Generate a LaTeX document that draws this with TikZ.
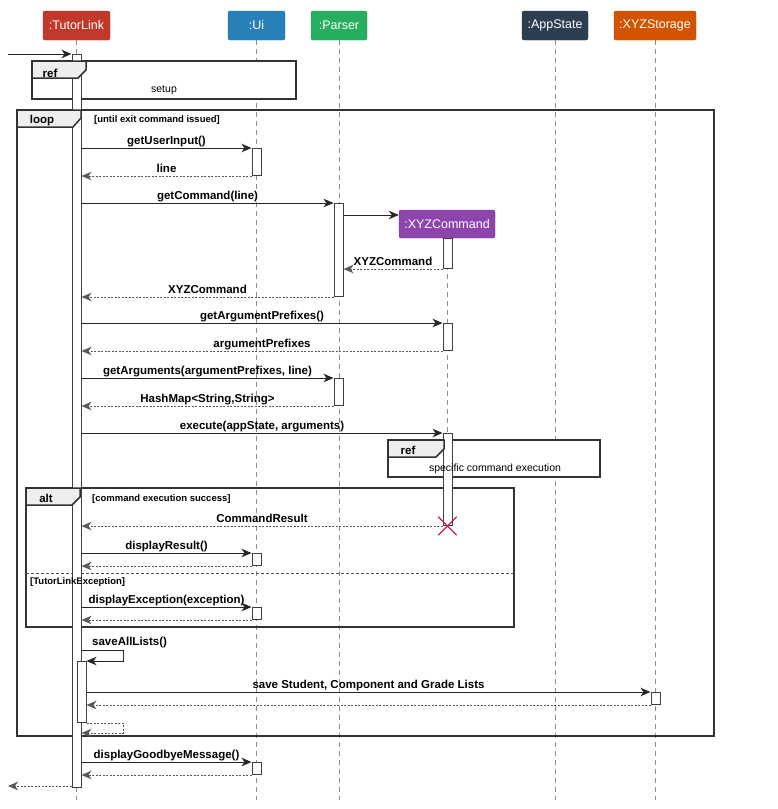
\documentclass[tikz,border=0pt]{standalone}
\usepackage{fontspec}
\setmainfont{Liberation Sans}
\usetikzlibrary{arrows.meta,shapes.misc}
\definecolor{tlred}{HTML}{C0392B}
\definecolor{uiblue}{HTML}{2980B9}
\definecolor{pgreen}{HTML}{27AE60}
\definecolor{asnavy}{HTML}{2C3E50}
\definecolor{storange}{HTML}{D35400}
\definecolor{cmdpurple}{HTML}{8E44AD}
\definecolor{xred}{HTML}{C81E4A}
\definecolor{framec}{HTML}{333333}
\definecolor{tabfill}{HTML}{EEEEEE}
\begin{document}
\begin{tikzpicture}[x=1pt,y=-1pt,
  hdr/.style={rectangle, rounded corners=2pt, text=white, inner sep=0pt,
    font=\fontsize{12.5}{14}\selectfont, draw=#1!85!black, fill=#1},
  life/.style={draw=black!45, dash pattern=on 5pt off 4pt, line width=0.8pt},
  act/.style={rectangle, draw=black!75, fill=white, line width=1pt,
    minimum width=9pt, inner sep=0pt, anchor=north},
  msg/.style={draw=black!85, line width=1pt, -{Stealth[length=10pt,width=8.5pt,inset=3pt]}},
  ret/.style={msg, draw=black!65, dash pattern=on 2pt off 1.5pt},
  lbl/.style={anchor=base, yshift=4pt, inner sep=0pt, font=\fontsize{11.5}{13}\selectfont\bfseries},
  frm/.style={draw=framec, line width=1.7pt},
  tabshape/.style={fill=tabfill, draw=framec, line width=1.5pt},
  tabtxt/.style={anchor=base, inner sep=0pt, font=\fontsize{11.5}{13}\selectfont\bfseries},
  guard/.style={anchor=base west, inner sep=0pt, font=\fontsize{9.5}{11}\selectfont\bfseries},
  reftxt/.style={anchor=base, inner sep=0pt, font=\fontsize{10.5}{12}\selectfont}
]
\useasboundingbox (0,0) rectangle (778,809);

% header boxes
\node[hdr=tlred, minimum width=67pt, minimum height=29pt] (tl) at (76.5,25.5) {:TutorLink};
\node[hdr=uiblue, minimum width=57pt, minimum height=29pt] (ui) at (256.5,25.5) {:Ui};
\node[hdr=pgreen, minimum width=56pt, minimum height=29pt] (pa) at (339,25.5) {:Parser};
\node[hdr=asnavy, minimum width=66pt, minimum height=29pt] (as) at (555,25.5) {:AppState};
\node[hdr=storange, minimum width=82pt, minimum height=29pt] (st) at (655,25.5) {:XYZStorage};

% helper coordinates
\coordinate (bot) at (0,800);
\coordinate (start) at (8,54);
\coordinate (finish) at (8,786);
\coordinate (cy) at (0,215);
\coordinate (sa) at (0,650);
\coordinate (sr) at (0,733);
\coordinate (sx) at (123,0);
\coordinate (xpos) at (447.5,526);

% lifelines
\draw[life] (tl.south) -- (tl.south |- bot);
\draw[life] (ui.south) -- (ui.south |- bot);
\draw[life] (pa.south) -- (pa.south |- bot);
\draw[life] (as.south) -- (as.south |- bot);
\draw[life] (st.south) -- (st.south |- bot);

% XYZCommand
\node[hdr=cmdpurple, minimum width=96pt, minimum height=28pt] (cmd) at (447,224) {:XYZCommand};
\draw[life] (cmd.south) -- (cmd.south |- xpos);

% frames
\draw[frm] (17,110) rectangle (714,736);
\draw[frm] (26,488) rectangle (514,627);
\draw[draw=black!70, line width=0.9pt, dash pattern=on 3pt off 2pt] (26,573) -- (514,573);
\draw[frm, fill=white] (32,61) rectangle (296,99);
\draw[frm, fill=white] (388,440) rectangle (600,477);

% activation bars
\node[act, minimum height=733pt] (tlA) at (76.5,54) {};
\node[act, minimum height=27pt] (ui1) at (256.5,148) {};
\node[act, minimum height=93pt] (p1) at (338.5,203) {};
\node[act, minimum height=30pt] (c1) at (447.5,238) {};
\node[act, minimum height=27pt] (c2) at (447.5,323) {};
\node[act, minimum height=27pt] (p2) at (338.5,378) {};
\node[act, minimum height=92pt] (c3) at (447.5,433) {};
\node[act, minimum height=12pt] (ui2) at (256.5,553) {};
\node[act, minimum height=12pt] (ui3) at (256.5,607) {};
\node[act, minimum height=61pt] (tl2) at (81.5,661) {};
\node[act, minimum height=12pt] (s1) at (655.5,692) {};
\node[act, minimum height=12pt] (ui4) at (256.5,762) {};

% messages
\draw[msg] (start) -- (tlA.north west);
\draw[msg] (tlA.east |- ui1.north) -- node[lbl]{getUserInput()} (ui1.north west);
\draw[ret] (ui1.south west) -- node[lbl]{line} (tlA.east |- ui1.south);
\draw[msg] (tlA.east |- p1.north) -- node[lbl]{getCommand(line)} (p1.north west);
\draw[msg] (p1.east |- cy) -- (cmd.west |- cy);
\draw[ret] (c1.south west) -- node[lbl]{XYZCommand} (p1.east |- c1.south);
\draw[ret] (p1.south west) -- node[lbl]{XYZCommand} (tlA.east |- p1.south);
\draw[msg] (tlA.east |- c2.north) -- node[lbl]{getArgumentPrefixes()} (c2.north west);
\draw[ret] (c2.south west) -- node[lbl]{argumentPrefixes} (tlA.east |- c2.south);
\draw[msg] (tlA.east |- p2.north) -- node[lbl]{getArguments(argumentPrefixes, line)} (p2.north west);
\draw[ret] (p2.south west) -- node[lbl]{HashMap<String,String>} (tlA.east |- p2.south);
\draw[msg] (tlA.east |- c3.north) -- node[lbl]{execute(appState, arguments)} (c3.north west);
\draw[ret] (c3.south west |- xpos) -- node[lbl]{CommandResult} (tlA.east |- xpos);
\draw[msg] (tlA.east |- ui2.north) -- node[lbl]{displayResult()} (ui2.north west);
\draw[ret] (ui2.south west) -- (tlA.east |- ui2.south);
\draw[msg] (tlA.east |- ui3.north) -- node[lbl]{displayException(exception)} (ui3.north west);
\draw[ret] (ui3.south west) -- (tlA.east |- ui3.south);
\draw[msg] (tlA.east |- sa) -- (sx |- sa) -- (sx |- tl2.north) -- (tl2.north east);
\node[anchor=base west, inner sep=0pt, font=\fontsize{11.5}{13}\selectfont\bfseries] (salbl) at (92,645) {saveAllLists()};
\draw[msg] (tl2.east |- s1.north) -- node[lbl]{save Student, Component and Grade Lists} (s1.north west);
\draw[ret] (s1.south west) -- (tl2.east |- s1.south);
\draw[ret] (tl2.south east) -- (sx |- tl2.south) -- (sx |- sr) -- (tlA.east |- sr);
\draw[msg] (tlA.east |- ui4.north) -- node[lbl]{displayGoodbyeMessage()} (ui4.north west);
\draw[ret] (ui4.south west) -- (tlA.east |- ui4.south);
\draw[ret] (tlA.south west |- finish) -- (finish);

% destroy
\node[cross out, draw=xred, line width=1.3pt, minimum size=17pt, inner sep=0pt] (xd) at (xpos) {};

% tabs
\draw[tabshape] (32,61) -- (86,61) -- (86,70) -- (78,78) -- (32,78) -- cycle;
\draw[tabshape] (17,110) -- (81,110) -- (81,118) -- (73,127) -- (17,127) -- cycle;
\draw[tabshape] (26,488) -- (80,488) -- (80,497) -- (72,505) -- (26,505) -- cycle;
\draw[tabshape] (388,440) -- (444,440) -- (444,449) -- (436,457) -- (388,457) -- cycle;

% frame texts
\node[tabtxt] (reft1) at (50,77) {ref};
\node[reftxt] (setupt) at (164,92) {setup};
\node[tabtxt] (loopt) at (42,123) {loop};
\node[guard] (loopg) at (94,122) {[until exit command issued]};
\node[tabtxt] (altt) at (46,502) {alt};
\node[guard] (altg1) at (92,501) {[command execution success]};
\node[guard] (altg2) at (30,584) {[TutorLinkException]};
\node[tabtxt] (reft2) at (408,454) {ref};
\node[reftxt] (spect) at (495,471) {specific command execution};
\end{tikzpicture}
\end{document}
